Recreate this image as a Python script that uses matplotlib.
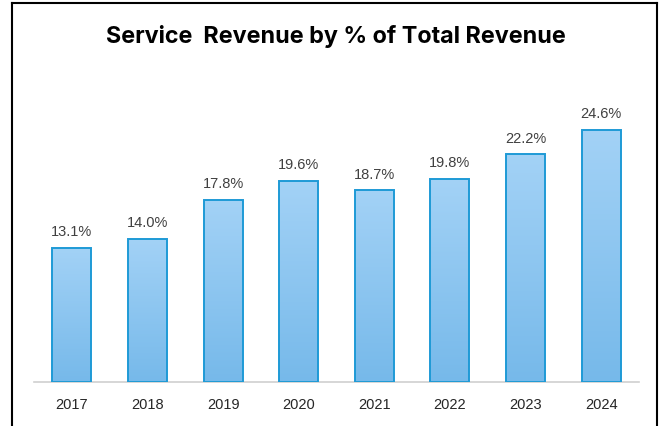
import matplotlib
matplotlib.use("Agg")
import matplotlib.pyplot as plt
import numpy as np
from matplotlib.colors import LinearSegmentedColormap
from matplotlib.patches import Rectangle

years = ["2017", "2018", "2019", "2020", "2021", "2022", "2023", "2024"]
service_share = [13.1, 14.0, 17.8, 19.6, 18.7, 19.8, 22.2, 24.6]

W, H = 661, 427
fig = plt.figure(figsize=(W / 100, H / 100), dpi=100)
fig.patch.set_facecolor("white")

# outer frame (left, top, right)
frame_kw = dict(color="black", linewidth=1.5, transform=fig.transFigure, clip_on=False)
fig.add_artist(plt.Line2D([11.5 / W, 11.5 / W], [0, 1 - 4 / H], **frame_kw))
fig.add_artist(plt.Line2D([11.5 / W, 656.5 / W], [1 - 4 / H, 1 - 4 / H], **frame_kw))
fig.add_artist(plt.Line2D([656.5 / W, 656.5 / W], [0, 1 - 4 / H], **frame_kw))

ax_left, ax_right = 34 / W, 639 / W
base_y = 383
ymax = 30
px_per_unit = 10.25
ax_bottom = 1 - base_y / H
ax_height = ymax * px_per_unit / H
ax = fig.add_axes([ax_left, ax_bottom, ax_right - ax_left, ax_height])

x = np.arange(len(years))
bar_w = 0.515
bars = ax.bar(x, service_share, width=bar_w, color="none",
              edgecolor="#1E9AD6", linewidth=1.4, zorder=3)

cmap = LinearSegmentedColormap.from_list("barfill", ["#76B9EA", "#A3D2F6"])
grad = np.linspace(0, 1, 256).reshape(-1, 1)
for b in bars:
    x0, y0 = b.get_x(), b.get_y()
    w, h = b.get_width(), b.get_height()
    im = ax.imshow(grad, cmap=cmap, origin="lower", aspect="auto",
                   extent=[x0, x0 + w, y0, y0 + h], zorder=2)
    im.set_clip_path(Rectangle((x0, y0), w, h, transform=ax.transData))

for xi, v in zip(x, service_share):
    ax.annotate(f"{v:.1f}%", (xi, v), xytext=(0, 7), textcoords="offset points",
                ha="center", va="bottom", fontsize=10.5, color="#404040",
                family="Liberation Sans")

ax.set_xlim(-0.5, len(years) - 0.5)
ax.set_ylim(0, ymax)
ax.set_xticks(x)
ax.set_xticklabels(years, fontsize=10.5, color="#262626", family="Liberation Sans")
ax.tick_params(axis="x", length=0, pad=11)
ax.set_yticks([])
for side in ["top", "left", "right"]:
    ax.spines[side].set_visible(False)
ax.spines["bottom"].set_color("#D0D0D0")
ax.spines["bottom"].set_linewidth(1.2)
ax.set_facecolor("none")

fig.text(336 / W, 1 - 42.7 / H, "Service  Revenue by % of Total Revenue",
         ha="center", va="baseline", fontsize=16.8, fontweight="bold",
         family="Inter", color="black")

fig.savefig("out.png", dpi=100)
